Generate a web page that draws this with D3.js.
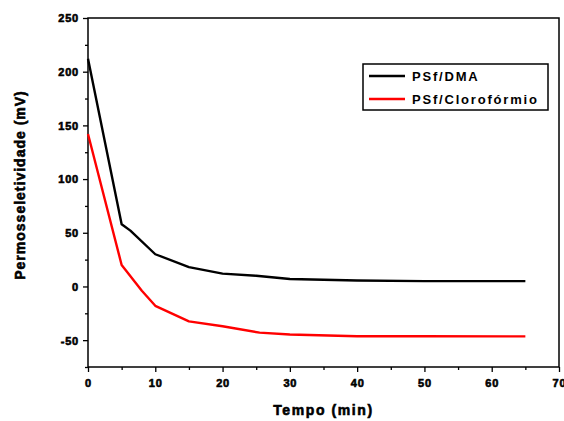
<!DOCTYPE html>
<html>
<head>
<meta charset="utf-8">
<script src="https://cdn.jsdelivr.net/npm/d3@7/dist/d3.min.js"></script>
<style>
  body { margin: 0; background: #fff; }
  svg { display: block; font-family: "Liberation Sans", Arial, sans-serif; }
  .tick-label { font-size: 11px; font-weight: bold; stroke: #000; stroke-width: 0.6px; letter-spacing: 0.8px; }
  .axis-title { font-size: 14px; font-weight: bold; stroke: #000; stroke-width: 0.6px; letter-spacing: 1.6px; }
  .legend-text { font-size: 13px; font-weight: bold; letter-spacing: 1.8px; }
</style>
</head>
<body>
<div id="chart"></div>
<script>
  // valores
  const tempo = [0, 5, 6.3, 10, 15, 20, 25, 30, 40, 50, 65];
  const psfDMA = [212, 58, 52, 30, 18, 12, 10, 7, 5.5, 5, 5];
  const tempoCloro = [0, 5, 8, 10, 15, 20, 25.5, 30, 40, 50, 65];
  const psfCloro = [142, 20, -4, -18, -32.5, -37, -43, -44.7, -46.3, -46.4, -46.5];
  const seriesNames = ['PSf/DMA', 'PSf/Clorofórmio'];
  const seriesColors = ['#000000', '#ff0000'];
  const xTicks = [0, 10, 20, 30, 40, 50, 60, 70];
  const yTicks = [-50, 0, 50, 100, 150, 200, 250];

  const W = 564, H = 421;
  const m = { left: 88, right: 5, top: 18, bottom: 54 };

  const svg = d3.select('#chart').append('svg')
    .attr('width', W).attr('height', H);

  const x = d3.scaleLinear().domain([0, 70]).range([m.left, W - m.right]);
  const y = d3.scaleLinear().domain([-75, 250]).range([H - m.bottom, m.top]);

  // moldura
  svg.append('rect')
    .attr('x', x(0)).attr('y', y(250))
    .attr('width', x(70) - x(0)).attr('height', y(-75) - y(250))
    .attr('fill', 'none').attr('stroke', '#000').attr('stroke-width', 1.5);

  const xAxis = svg.append('g')
    .attr('transform', `translate(0,${y(-75)})`)
    .call(d3.axisBottom(x).tickValues(d3.range(0, 71, 5)).tickSize(5).tickFormat(''));
  xAxis.selectAll('.tick line')
    .attr('y2', d => d % 10 === 0 ? 5 : 3)
    .attr('stroke-width', 1.3);
  xAxis.select('.domain').remove();
  xAxis.selectAll('.tick').filter(d => xTicks.includes(d)).append('text')
    .attr('class', 'tick-label')
    .attr('y', 20).attr('fill', '#000').attr('text-anchor', 'middle')
    .text(d => d);

  const yAxis = svg.append('g')
    .attr('transform', `translate(${x(0)},0)`)
    .call(d3.axisLeft(y).tickValues(d3.range(-75, 251, 25)).tickSize(5).tickFormat(''));
  yAxis.selectAll('.tick line')
    .attr('x2', d => d % 50 === 0 ? -5 : -3)
    .attr('stroke-width', 1.3);
  yAxis.select('.domain').remove();
  yAxis.selectAll('.tick').filter(d => yTicks.includes(d)).append('text')
    .attr('class', 'tick-label')
    .attr('x', -9).attr('dy', '0.35em').attr('fill', '#000').attr('text-anchor', 'end')
    .text(d => d);

  svg.append('text').attr('class', 'axis-title')
    .attr('x', (x(0) + x(70)) / 2).attr('y', 415).attr('text-anchor', 'middle')
    .text('Tempo (min)');

  svg.append('text').attr('class', 'axis-title')
    .attr('transform', `translate(25,${185}) rotate(-90)`).attr('text-anchor', 'middle')
    .style('letter-spacing', '1px')
    .text('Permosseletividade (mV)');

  const line = d3.line().x(d => x(d[0])).y(d => y(d[1]));
  const series = [
    d3.zip(tempo, psfDMA),
    d3.zip(tempoCloro, psfCloro)
  ];

  svg.append('g').selectAll('path')
    .data(series)
    .join('path')
    .attr('d', line)
    .attr('fill', 'none')
    .attr('stroke', (d, i) => seriesColors[i])
    .attr('stroke-width', 2.4)
    .attr('stroke-linejoin', 'round');

  // legenda
  const lg = svg.append('g').attr('transform', 'translate(363,64)');
  lg.append('rect').attr('width', 185).attr('height', 46)
    .attr('fill', '#fff').attr('stroke', '#000').attr('stroke-width', 1.5);
  seriesNames.forEach((name, i) => {
    const yy = 12 + i * 23;
    lg.append('line').attr('x1', 6).attr('x2', 42).attr('y1', yy).attr('y2', yy)
      .attr('stroke', seriesColors[i]).attr('stroke-width', 2.4);
    lg.append('text').attr('class', 'legend-text')
      .attr('x', 49).attr('y', yy).attr('dy', '0.36em').text(name);
  });
</script>
</body>
</html>
